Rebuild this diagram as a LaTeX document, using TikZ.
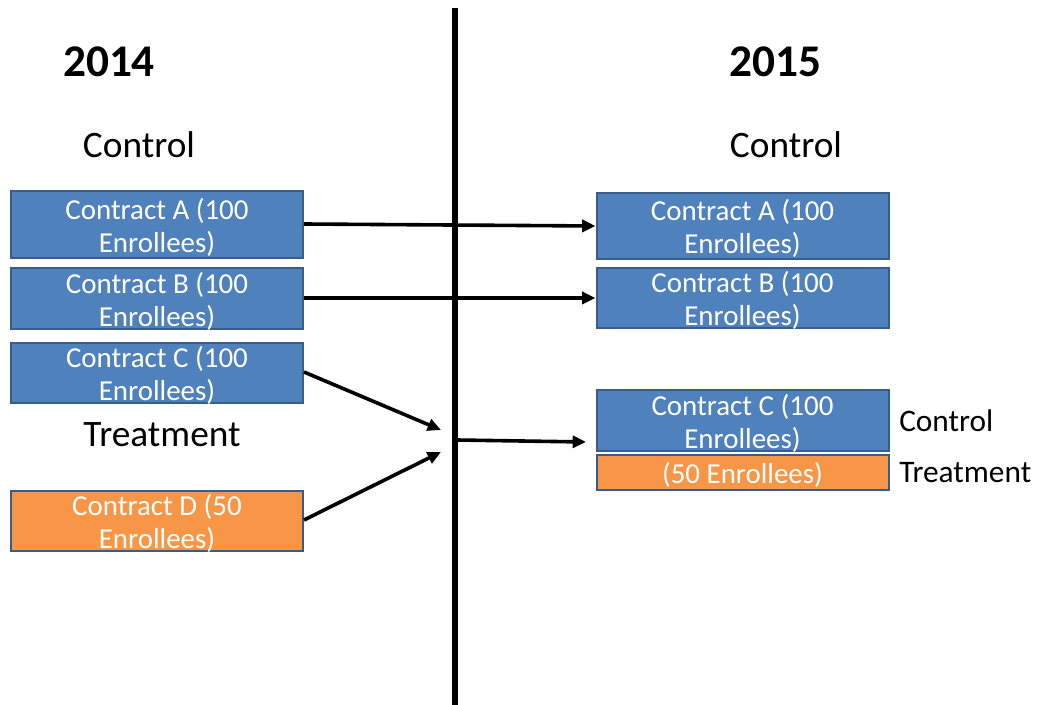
\documentclass[tikz,border=0pt]{standalone}
\usepackage{fontspec}
\setmainfont{Carlito}
\usetikzlibrary{arrows.meta}
\definecolor{boxblue}{HTML}{4F81BD}
\definecolor{boxorange}{HTML}{F79646}
\definecolor{boxedge}{HTML}{385D8A}
\begin{document}
\begin{tikzpicture}[x=0.75pt,y=-0.75pt,
  cbox/.style={draw=boxedge, line width=1.5pt, minimum width=219pt, inner sep=0pt},
  bluebox/.style={cbox, fill=boxblue},
  orangebox/.style={cbox, fill=boxorange},
  boxtext/.style={inner sep=0pt, text=white, align=center, yshift=-2pt,
    font=\fontsize{21.7}{24.75}\selectfont},
  arr/.style={line width=2.7pt, -{Triangle[length=10pt,width=9pt]}},
  biglabel/.style={inner sep=0pt, font=\fontsize{28}{32}\selectfont},
  sidelabel/.style={inner sep=0pt, anchor=west, font=\fontsize{23.5}{27}\selectfont},
  yearlabel/.style={inner sep=0pt, font=\fontsize{34}{38}\selectfont\bfseries}]
\useasboundingbox (0,0) rectangle (1039,705);
% divider
\coordinate (top) at (455,8);
\coordinate (bot) at (455,705);
\draw[line width=3.8pt] (top) -- (bot);
% headings
\node[yearlabel] (y14) at (109,62) {2014};
\node[yearlabel] (y15) at (775,62) {2015};
\node[biglabel] (ctlL) at (139,145) {Control};
\node[biglabel] (ctlR) at (786,145) {Control};
\node[biglabel] (trtL) at (162,435) {Treatment};
% left boxes
\node[bluebox, minimum height=50pt] (aL) at (157,224.5) {};
\node[bluebox, minimum height=45.5pt] (bL) at (157,298.5) {};
\node[bluebox, minimum height=45pt] (cL) at (157,373) {};
\node[orangebox, minimum height=45pt] (dL) at (157,521) {};
\node[boxtext] (aLt) at (aL) {Contract A (100\\Enrollees)};
\node[boxtext] (bLt) at (bL) {Contract B (100\\Enrollees)};
\node[boxtext] (cLt) at (cL) {Contract C (100\\Enrollees)};
\node[boxtext] (dLt) at (dL) {Contract D (50\\Enrollees)};
% right boxes
\node[bluebox, minimum height=49.5pt] (aR) at (742.5,226) {};
\node[bluebox, minimum height=45pt] (bR) at (742.5,298) {};
\node[bluebox, minimum height=45.5pt] (cR) at (742.5,420.5) {};
\node[orangebox, minimum height=26pt] (oR) at (742.5,472.5) {};
\node[boxtext] (aRt) at (aR) {Contract A (100\\Enrollees)};
\node[boxtext] (bRt) at (bR) {Contract B (100\\Enrollees)};
\node[boxtext] (cRt) at (cR) {Contract C (100\\Enrollees)};
\node[boxtext] (oRt) at (oR) {(50 Enrollees)};
\node[sidelabel] (ctlS) at (899,421) {Control};
\node[sidelabel] (trtS) at (899,473) {Treatment};
% arrows
\coordinate (cEnd) at (441,430);
\coordinate (dEnd) at (441,452);
\coordinate (mStart) at (457,440);
\coordinate (mEnd) at (586,442);
\draw[arr] (aL.east |- 0,224) -- (aR.west |- 0,226);
\draw[arr] (bL.east |- 0,298) -- (bR.west |- 0,298);
\draw[arr] (cL.east |- 0,372) -- (cEnd);
\draw[arr] (dL.east |- 0,520) -- (dEnd);
\draw[arr] (mStart) -- (mEnd);
\end{tikzpicture}
\end{document}
